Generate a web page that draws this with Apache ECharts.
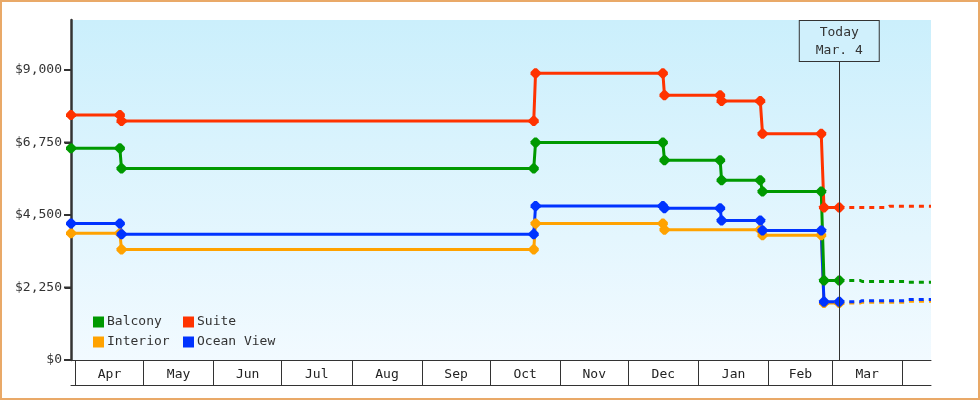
<!DOCTYPE html>
<html><head><meta charset="utf-8">
<script src="https://cdn.jsdelivr.net/npm/echarts@6/dist/echarts.min.js"></script>
<style>html,body{margin:0;padding:0;background:#fff}#c{width:980px;height:400px}</style>
</head><body><div id="c"></div>
<script>
// ---- data ----
const monthLabels = ['Apr','May','Jun','Jul','Aug','Sep','Oct','Nov','Dec','Jan','Feb','Mar'];
const monthStarts = ['2012-04-01','2012-05-01','2012-06-01','2012-07-01','2012-08-01','2012-09-01','2012-10-01','2012-11-01','2012-12-01','2013-01-01','2013-02-01','2013-03-01','2013-04-01'];
const yTicks = [0, 2250, 4500, 6750, 9000];
const axisStart = '2012-03-30 0';
const axisEnd = '2013-04-13 16';
const todayDate = '2013-03-04 4';
const todayText = 'Today\nMar. 4';

const priceDates = ['2012-03-30 0','2012-04-20 14','2012-04-21 7','2012-10-20 7','2012-10-21 2','2012-12-16 7','2012-12-17 0','2013-01-10 14','2013-01-11 5','2013-01-28 7','2013-01-29 7','2013-02-24 5','2013-02-25 10','2013-03-04 4'];
const suiteValues     = [7600,7600,7420,7420,8900,8900,8220,8220,8040,8040,7020,7020,4730,4730];
const balconyValues   = [6570,6570,5940,5940,6750,6750,6200,6200,5580,5580,5230,5230,2470,2470];
const oceanViewValues = [4240,4240,3900,3900,4780,4780,4710,4710,4330,4330,4020,4020,1810,1810];
const interiorDates = ['2012-03-30 0','2012-04-20 14','2012-04-21 7','2012-10-20 7','2012-10-21 2','2012-12-16 7','2012-12-17 0','2013-01-28 7','2013-01-29 7','2013-02-24 5','2013-02-25 10','2013-03-04 4'];
const interiorValues = [3930,3930,3430,3430,4240,4240,4040,4040,3870,3870,1770,1770];

const suiteFcDates = ['2013-03-04 4','2013-03-25 6','2013-03-26 6','2013-04-13 16'];
const suiteFcValues = [4730,4730,4770,4770];
const otherFcDates = ['2013-03-04 4','2013-03-13 6','2013-03-14 6','2013-04-02 12','2013-04-03 12','2013-04-13 16'];
const balconyFcValues   = [2470,2470,2440,2440,2410,2410];
const oceanViewFcValues = [1810,1810,1840,1840,1880,1880];
const interiorFcValues  = [1770,1770,1790,1790,1820,1820];

const colors = {Balcony:'#009900', Suite:'#ff3300', Interior:'#ffa200', 'Ocean View':'#0033ff'};

// ---- helpers ----
function t(s){const [d,h]=s.split(' ');const [Y,M,D]=d.split('-').map(Number);return Date.UTC(Y,M-1,D,h?+h:0);}
function pts(ds,vs){return ds.map((d,i)=>[t(d),vs[i]]);}
const tickTs = monthStarts.map(t);
const labelTs = tickTs.slice(0,-1).map((v,i)=>(v+tickTs[i+1])/2);
const FONT = '"DejaVu Sans Mono", "Liberation Mono", monospace';
const markerPath = 'path://M3,0 L5,0 L8,3 L8,5 L5,8 L3,8 L0,5 L0,3 Z';

function solid(name, data, extra){
  return Object.assign({
    name, type:'line', data, color:colors[name],
    symbol: markerPath, symbolSize: 10, showSymbol:true,
    lineStyle:{width:3, color:colors[name]},
    itemStyle:{color:colors[name]}, z:3
  }, extra||{});
}
function dashed(name, data){
  return {name: name+' fc', type:'line', data, color:colors[name], symbol:'none',
    lineStyle:{width:3, type:[5,5], color:colors[name]}, z:2};
}
const legendText = {fontFamily:FONT, fontSize:13, lineHeight:14, color:'#333', padding:[0,0,0,-2]};

const chart = echarts.init(document.getElementById('c'), null, {renderer:'canvas'});
chart.setOption({
  animation:false,
  backgroundColor:'#fff',
  textStyle:{fontFamily:FONT},
  grid:{left:71, right:49, top:20, bottom:40, show:true, borderWidth:0,
    backgroundColor:{type:'linear',x:0,y:0,x2:0,y2:1,colorStops:[{offset:0,color:'#cbeffc'},{offset:1,color:'#f2faff'}]}},
  legend:[
    {data:['Balcony','Interior'], orient:'vertical', left:93, top:315, padding:0, itemWidth:11, itemHeight:11, itemGap:6,
     icon:'rect', textStyle:legendText, selectedMode:false},
    {data:['Suite','Ocean View'], orient:'vertical', left:183, top:315, padding:0, itemWidth:11, itemHeight:11, itemGap:6,
     icon:'rect', textStyle:legendText, selectedMode:false}
  ],
  xAxis:[
    {type:'value', min:t(axisStart), max:t(axisEnd), position:'bottom',
     axisLine:{show:true, onZero:false, lineStyle:{color:'#333', width:1}},
     axisTick:{show:true, customValues:tickTs, length:25, inside:false, lineStyle:{color:'#333', width:1}},
     axisLabel:{show:true, customValues:labelTs, margin:8, fontFamily:FONT, fontSize:13, color:'#222',
       formatter:(v)=>monthLabels[labelTs.findIndex(x=>Math.abs(x-v)<1000)] || ''},
     splitLine:{show:false}},
    {type:'value', min:t(axisStart), max:t(axisEnd), position:'bottom', offset:25,
     axisLine:{show:true, onZero:false, lineStyle:{color:'#333', width:1}},
     axisTick:{show:false}, axisLabel:{show:false}, splitLine:{show:false}}
  ],
  yAxis:{type:'value', min:0, max:9000*340/290, 
    axisLine:{show:true, lineStyle:{color:'#333', width:2.5}},
    axisTick:{show:true, customValues:yTicks, length:6, lineStyle:{color:'#333', width:2}},
    axisLabel:{customValues:yTicks, margin:9, fontFamily:FONT, fontSize:13, color:'#333',
      formatter:(v)=>'$'+Number(v).toLocaleString('en-US')},
    splitLine:{show:false}},
  series:[
    {type:'custom', name:'yticks', silent:true, clip:false, z:10,
     data: yTicks.map(v=>[t(axisStart), v]),
     renderItem:(params, api)=>{
       const p = api.coord([api.value(0), api.value(1)]);
       return {type:'line', shape:{x1:p[0]-7, y1:p[1], x2:p[0], y2:p[1]}, style:{stroke:'#333', lineWidth:2}};
     }},
    dashed('Interior', pts(otherFcDates, interiorFcValues)),
    dashed('Ocean View', pts(otherFcDates, oceanViewFcValues)),
    dashed('Balcony', pts(otherFcDates, balconyFcValues)),
    dashed('Suite', pts(suiteFcDates, suiteFcValues)),
    solid('Interior', pts(interiorDates, interiorValues)),
    solid('Ocean View', pts(priceDates, oceanViewValues)),
    solid('Balcony', pts(priceDates, balconyValues)),
    solid('Suite', pts(priceDates, suiteValues), {
      markLine:{silent:true, symbol:['none','none'], animation:false,
        lineStyle:{color:'#333', width:1, type:'solid'},
        label:{show:true, position:'end', distance:0, formatter:todayText, fontFamily:FONT, fontSize:13,
          lineHeight:18, color:'#333', backgroundColor:'#d0f0fc', borderColor:'#333', borderWidth:1,
          padding:[3,16,1,16], align:'center'},
        emphasis:{disabled:true},
        data:[[{coord:[t(todayDate),0]},{coord:[t(todayDate),9000*299/290]}]]}
    })
  ],
  graphic:[{type:'rect', silent:true, z:100, shape:{x:1,y:1,width:978,height:398},
    style:{fill:'none', stroke:'#e9a968', lineWidth:2}}]
});
</script></body></html>
